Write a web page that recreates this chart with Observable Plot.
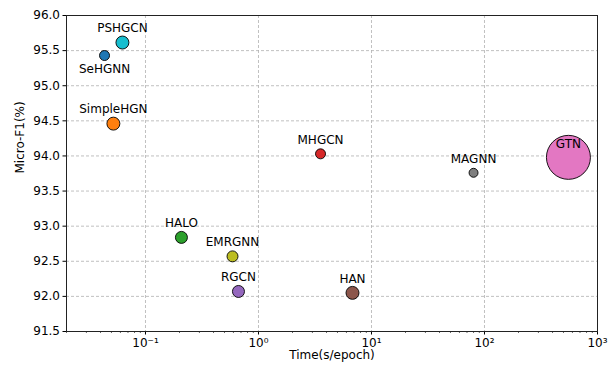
<!DOCTYPE html>
<html>
<head>
<meta charset="utf-8">
<script src="https://cdn.jsdelivr.net/npm/d3@7"></script>
<script src="https://cdn.jsdelivr.net/npm/@observablehq/plot@0.6"></script>
<style>
  html, body { margin: 0; padding: 0; background: #fff; }
  #chart svg { display: block; }
</style>
</head>
<body>
<div id="chart"></div>
<script>
const models  = ["SeHGNN", "SimpleHGN", "HALO", "MHGCN", "RGCN", "HAN", "GTN", "MAGNN", "EMRGNN", "PSHGCN"];
const timeSec = [0.0434, 0.052, 0.208, 3.54, 0.665, 6.79, 553, 80, 0.589, 0.0625];
const microF1 = [95.43, 94.46, 92.84, 94.03, 92.07, 92.05, 93.98, 93.76, 92.57, 95.615];
const bubble  = [25, 42, 36, 25, 36, 42, 484, 20, 30, 42];
const palette = ["#1f77b4", "#ff7f0e", "#2ca02c", "#d62728", "#9467bd", "#8c564b", "#e377c2", "#7f7f7f", "#bcbd22", "#17becf"];
const xTicks = [0.1, 1, 10, 100, 1000];
const xTickLabels = ["10\u207B\u00B9", "10\u2070", "10\u00B9", "10\u00B2", "10\u00B3"];
const yTicks = [91.5, 92.0, 92.5, 93.0, 93.5, 94.0, 94.5, 95.0, 95.5, 96.0];
const labelBelow = ["SeHGNN"];

const data = models.map((m, i) => ({model: m, time: timeSec[i], f1: microF1[i], size: bubble[i]}));
const minorTicks = [];
for (let k = -2; k <= 2; k++) for (let m = 2; m <= 9; m++) {
  const v = m * Math.pow(10, k);
  if (v >= 0.02 && v <= 1000) minorTicks.push(v);
}

const chart = Plot.plot({
  width: 616,
  height: 366,
  marginLeft: 66,
  marginRight: 19,
  marginTop: 15,
  marginBottom: 35,
  style: {fontFamily: "'DejaVu Sans', sans-serif", fontSize: "12px", color: "black", background: "white"},
  x: {type: "log", domain: [0.02, 1000]},
  y: {domain: [91.5, 96.0]},
  r: {type: "sqrt", domain: [0, 484], range: [0, 22]},
  color: {domain: models, range: palette},
  marks: [
    Plot.gridX(xTicks, {stroke: "#b0b0b0", strokeOpacity: 1, strokeDasharray: "3,2", strokeWidth: 0.8}),
    Plot.gridY(yTicks, {stroke: "#b0b0b0", strokeOpacity: 1, strokeDasharray: "3,2", strokeWidth: 0.8}),
    Plot.axisX(minorTicks, {tickSize: 2, tickFormat: null, text: null, label: null, stroke: "black", strokeWidth: 0.6}),
    Plot.axisX(xTicks, {tickSize: 3.5, tickPadding: 3, tickFormat: (d) => xTickLabels[xTicks.indexOf(d)], label: null, stroke: "black", fill: "black", fontSize: 12}),
    Plot.axisY(yTicks, {tickSize: 3.5, tickPadding: 3, tickFormat: ".1f", label: null, stroke: "black", fill: "black", fontSize: 12}),
    Plot.frame({stroke: "#222", strokeWidth: 1}),
    Plot.dot(data, {x: "time", y: "f1", r: "size", fill: "model", stroke: "black", strokeWidth: 0.9}),
    Plot.text(data.filter(d => !labelBelow.includes(d.model) && d.model !== "GTN"), {x: "time", y: "f1", text: "model", dy: -14, fill: "black", fontSize: 12}),
    Plot.text(data.filter(d => d.model === "GTN"), {x: "time", y: "f1", text: "model", dy: -13, fill: "black", fontSize: 12}),
    Plot.text(data.filter(d => labelBelow.includes(d.model)), {x: "time", y: "f1", text: "model", dy: 14, fill: "black", fontSize: 12}),
    Plot.text([0], {frameAnchor: "bottom", dy: 27, text: () => "Time(s/epoch)", fill: "black", fontSize: 12}),
    Plot.text([0], {frameAnchor: "left", dx: -46, rotate: -90, text: () => "Micro-F1(%)", fill: "black", fontSize: 12})
  ]
});
document.getElementById("chart").appendChild(chart);
</script>
</body>
</html>
